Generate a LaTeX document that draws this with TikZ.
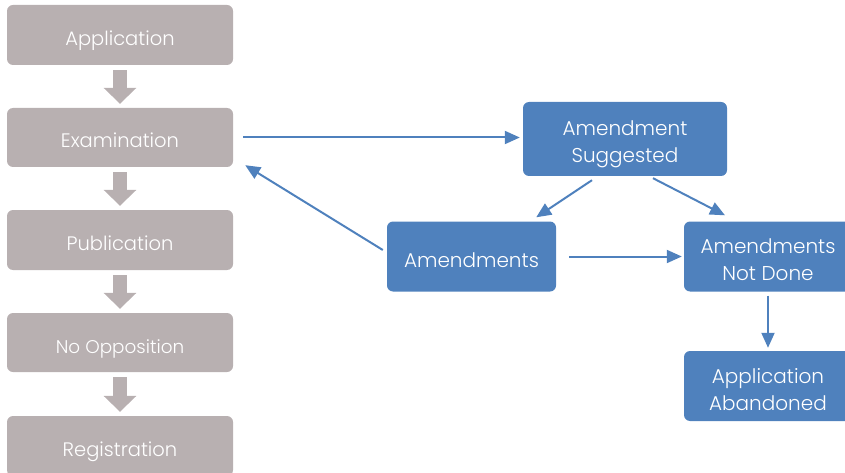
\documentclass[tikz,border=0pt]{standalone}
\usepackage{fontspec}
\setmainfont{Poppins}[UprightFont=* Light]
\usetikzlibrary{arrows.meta}

\definecolor{stepgray}{RGB}{184,176,177}
\definecolor{stepblue}{RGB}{79,129,189}

\tikzset{
  graybox/.style={fill=stepgray,rounded corners=6pt,minimum width=226pt,minimum height=60pt,
    text=white,font=\fontsize{19.5}{27}\selectfont,align=center,text height=21pt,text depth=0pt},
  bluebox/.style={fill=stepblue,rounded corners=6pt,minimum height=70pt,
    text=white,font=\fontsize{20}{27}\selectfont,align=center,text height=21pt,text depth=0pt},
  twolines/.style={text height=48pt},
  bigarrow/.style={draw=stepgray,line width=14pt,-{Triangle[length=16pt,width=32pt]},
    shorten <=5pt,shorten >=4pt},
  flowarrow/.style={draw=stepblue,line width=2pt,-{Triangle[length=15pt,width=13pt]}}
}

\begin{document}
\begin{tikzpicture}[x=1pt,y=-1pt]
\useasboundingbox (0,0) rectangle (845,473);
% left column
\node[graybox] (app) at (120,35) {Application};
\node[graybox,minimum height=59pt] (exam) at (120,137.5) {Examination};
\node[graybox] (pub) at (120,240) {Publication};
\node[graybox,minimum height=59pt,font=\fontsize{18.4}{27}\selectfont] (noopp) at (120,342.5) {No Opposition};
\node[graybox] (reg) at (120,446) {Registration};
\draw[bigarrow] (app) -- (exam);
\draw[bigarrow] (exam) -- (pub);
\draw[bigarrow] (pub) -- (noopp);
\draw[bigarrow] (noopp) -- (reg);
% amendments
\node[bluebox,twolines,minimum width=204pt,minimum height=74pt] (sugg) at (625,139) {Amendment\\Suggested};
\node[bluebox,minimum width=169pt] (amend) at (471.5,256.5) {Amendments};
\node[bluebox,twolines,minimum width=168pt] (notdone) at (768,256.5) {Amendments\\Not Done};
\node[bluebox,twolines,minimum width=168pt] (aband) at (768,386) {Application\\Abandoned};
\draw[flowarrow,shorten <=10pt,shorten >=3pt] (exam.east) -- (exam.east -| sugg.west);
\draw[flowarrow] ([xshift=-4,yshift=6.5]amend.west) -- ([xshift=12,yshift=2]exam.south east);
\draw[flowarrow] ([xshift=-33,yshift=-4]sugg.south) -- ([xshift=-20,yshift=4]amend.north east);
\draw[flowarrow] ([xshift=28,yshift=-2]sugg.south) -- ([xshift=-43,yshift=6]notdone.north);
\draw[flowarrow,shorten <=13pt,shorten >=2pt] (amend.east) -- (notdone.west);
\draw[flowarrow,shorten <=4pt,shorten >=3pt] (notdone.south) -- (aband.north);
\end{tikzpicture}
\end{document}
